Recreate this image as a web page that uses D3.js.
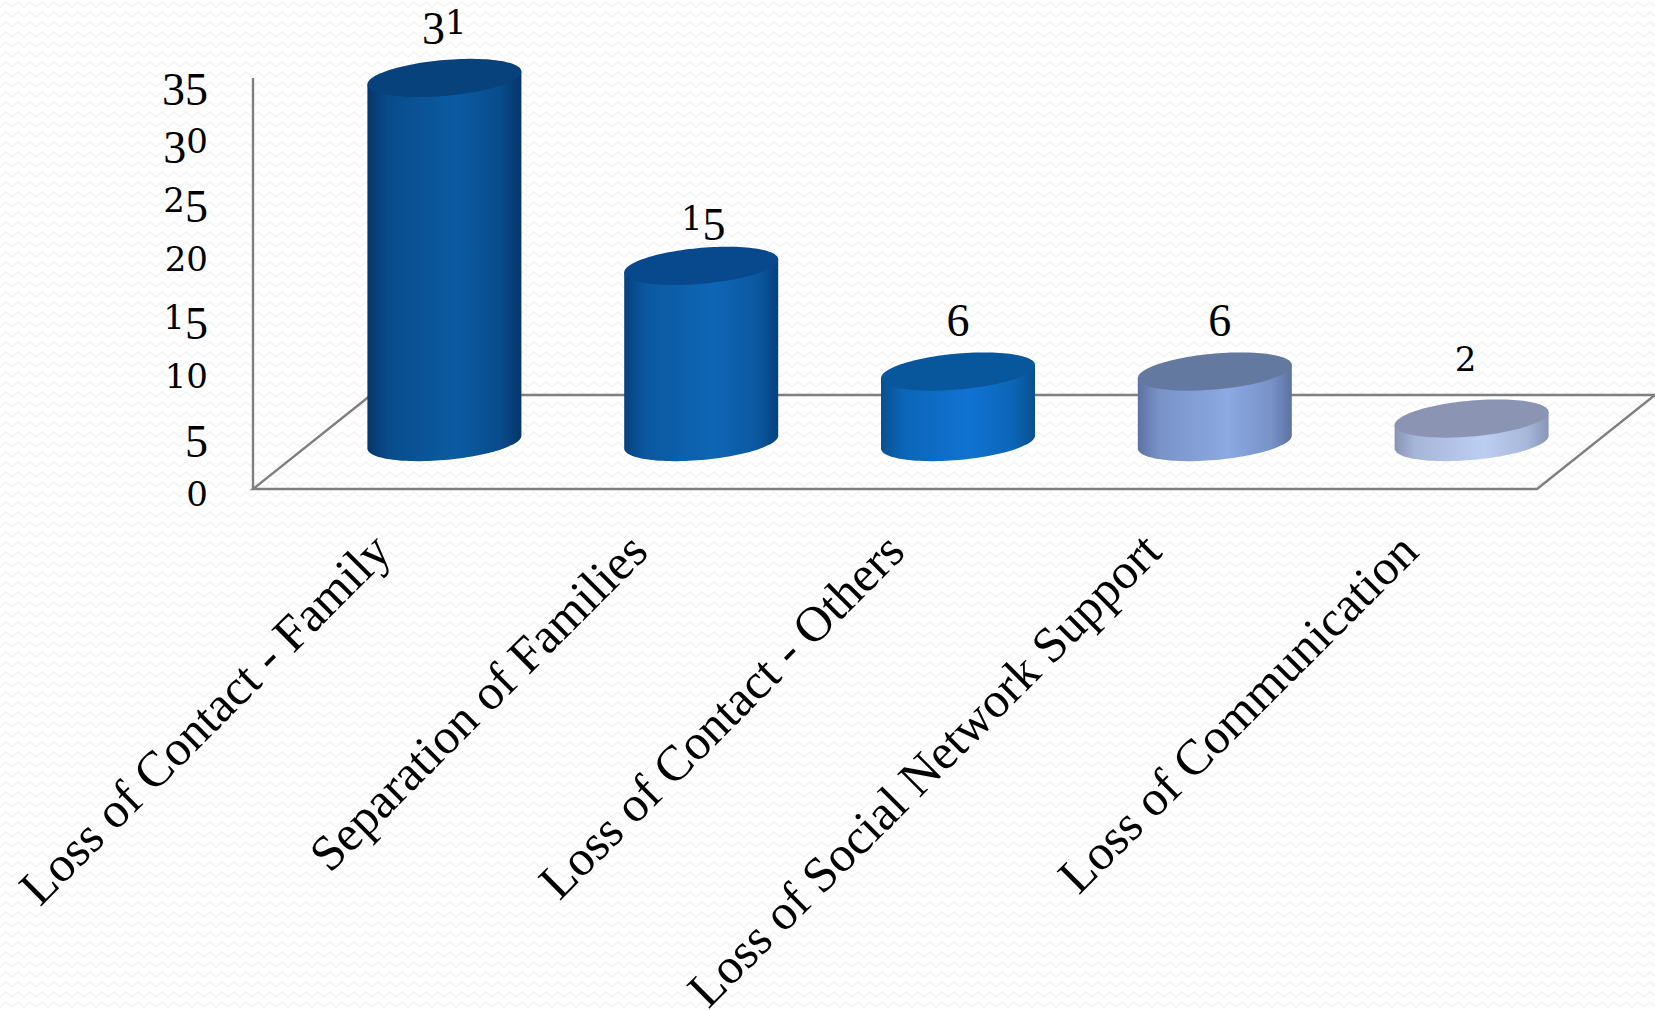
<!DOCTYPE html>
<html lang="en">
<head>
<meta charset="utf-8">
<title>Loss of contact</title>
<script src="https://d3js.org/d3.v7.min.js"></script>
<style>
  html, body { margin: 0; padding: 0; background: #fff; overflow: hidden; }
  svg { display: block; }
  text { font-family: "Liberation Serif", serif; fill: #000; }
</style>
</head>
<body>
<div id="chart"></div>
<script>
// the data
var categories = ["Loss of Contact - Family", "Separation of Families", "Loss of Contact - Others",
                  "Loss of Social Network Support", "Loss of Communication"];
var values = [31, 15, 6, 6, 2];
var yTicks = [0, 5, 10, 15, 20, 25, 30, 35];

// bar colours: edge of the body, middle of the body, top cap
var edgeColors = ["#05356a", "#06427f", "#07508f", "#5d72a3", "#8795b6"];
var midColors = ["#0b5ba2", "#0e66b6", "#1073d2", "#8ca9e2", "#bccef2"];
var capColors = ["#07427c", "#07498c", "#08569c", "#64799f", "#8b95b3"];

var width = 1655, height = 1010;
var front = {left: 253, right: 1537, top: 78, bottom: 489};
var depth = {x: 118, y: 94};

var svg = d3.select("#chart").append("svg")
    .attr("width", width)
    .attr("height", height);

var defs = svg.append("defs");

// faint zigzag paper behind everything
var paper = defs.append("pattern")
    .attr("id", "paper")
    .attr("patternUnits", "userSpaceOnUse")
    .attr("width", 12)
    .attr("height", 10);
paper.append("path")
    .attr("d", "M0,7 L6,2 L12,7")
    .attr("fill", "none")
    .attr("stroke", "#f3f3f3")
    .attr("stroke-width", 1.6);

svg.append("rect")
    .attr("width", width)
    .attr("height", height)
    .attr("fill", "url(#paper)");

var x = d3.scaleBand()
    .domain(categories)
    .range([front.left, front.right]);

var y = d3.scaleLinear()
    .domain([0, 35])
    .range([front.bottom, front.top]);

// floor of the 3d box
var floorLine = d3.line();
svg.append("path")
    .attr("d", floorLine([
      [front.left + depth.x, front.bottom - depth.y],
      [front.left, front.bottom],
      [front.right, front.bottom],
      [front.right + depth.x, front.bottom - depth.y],
      [front.left + depth.x, front.bottom - depth.y]
    ]))
    .attr("fill", "none")
    .attr("stroke", "#7f7f7f")
    .attr("stroke-width", 2.4);

svg.append("line")
    .attr("x1", front.left).attr("x2", front.left)
    .attr("y1", front.top).attr("y2", front.bottom)
    .attr("stroke", "#7f7f7f")
    .attr("stroke-width", 2.4);

// old style figures: 0 1 2 sit on the line at x-height, the others hang below it
function oldStyle(sel, str) {
  var shift = 0;
  sel.text(null).style("font-size", "46px");
  String(str).split("").forEach(function(ch) {
    var small = "012".indexOf(ch) >= 0;
    var drop = "3579".indexOf(ch) >= 0 ? 10 : 0;
    sel.append("tspan")
      .style("font-family", small ? '"DejaVu Serif", serif' : '"Liberation Serif", serif')
      .style("font-size", small ? "34px" : "46px")
      .attr("dy", drop - shift)
      .text(ch);
    shift = drop;
  });
}

// y axis
var yAxis = svg.append("g")
    .attr("transform", "translate(" + front.left + ",0)")
    .call(d3.axisLeft(y).tickValues(yTicks).tickSize(0).tickPadding(45));
yAxis.select(".domain").remove();
yAxis.selectAll("text")
    .attr("dy", null)
    .attr("y", 16)
    .each(function(d) { oldStyle(d3.select(this), d); });

// x axis, labels run up at 45 degrees
var xAxis = svg.append("g")
    .attr("transform", "translate(0," + front.bottom + ")")
    .call(d3.axisBottom(x).tickSize(0));
xAxis.select(".domain").remove();
xAxis.selectAll("text")
    .style("font-family", '"Liberation Serif", serif')
    .style("font-size", "50px")
    .attr("text-anchor", "end")
    .attr("dy", 0)
    .attr("y", 0)
    .attr("transform", "translate(12,65) rotate(-45)");

// cylinders
var barWidth = 154;
var barOffset = {x: 63, y: -47};
var tilt = 6.5, capHalf = 18;   // tilted ellipse of the round ends
var angles = d3.range(0, 2 * Math.PI, Math.PI / 60);
var lowerAngles = d3.range(0, Math.PI + 0.001, Math.PI / 60);

function ellipsePoint(cx, cy, t) {
  return [cx + barWidth / 2 * Math.cos(t), cy + capHalf * Math.sin(t) - tilt * Math.cos(t)];
}

var barLine = d3.line();

categories.forEach(function(c, i) {
  var grad = defs.append("linearGradient").attr("id", "body" + i);
  grad.append("stop").attr("offset", "0%").attr("stop-color", edgeColors[i]);
  grad.append("stop").attr("offset", "14%").attr("stop-color", d3.interpolateRgb(edgeColors[i], midColors[i])(0.6));
  grad.append("stop").attr("offset", "58%").attr("stop-color", midColors[i]);
  grad.append("stop").attr("offset", "86%").attr("stop-color", d3.interpolateRgb(edgeColors[i], midColors[i])(0.6));
  grad.append("stop").attr("offset", "100%").attr("stop-color", edgeColors[i]);
});

var bars = svg.selectAll(".bar")
    .data(values)
    .enter()
    .append("g")
    .attr("class", "bar");

bars.append("path")
    .attr("d", function(d, i) {
      var cx = x(categories[i]) + x.bandwidth() / 2 + barOffset.x;
      var topY = y(d) + barOffset.y;
      var botY = y(0) + barOffset.y;
      // right side down, round the bottom, left side up
      var pts = lowerAngles.map(function(t) { return ellipsePoint(cx, botY, t); });
      pts.push(ellipsePoint(cx, topY, Math.PI));
      pts.push(ellipsePoint(cx, topY, 0));
      return barLine(pts) + "Z";
    })
    .attr("fill", function(d, i) { return "url(#body" + i + ")"; });

bars.append("path")
    .attr("d", function(d, i) {
      var cx = x(categories[i]) + x.bandwidth() / 2 + barOffset.x;
      var topY = y(d) + barOffset.y;
      return barLine(angles.map(function(t) { return ellipsePoint(cx, topY, t); })) + "Z";
    })
    .attr("fill", function(d, i) { return capColors[i]; });

// value labels
var labelLift = [44, 36, 36, 36, 48];
var labelShift = [0, 2, 0, 5, -6];
svg.selectAll(".value")
    .data(values)
    .enter()
    .append("text")
    .attr("class", "value")
    .attr("text-anchor", "middle")
    .attr("x", function(d, i) { return x(categories[i]) + x.bandwidth() / 2 + barOffset.x + labelShift[i]; })
    .attr("y", function(d, i) { return y(d) + barOffset.y - labelLift[i]; })
    .each(function(d) { oldStyle(d3.select(this), d); });
</script>
</body>
</html>
